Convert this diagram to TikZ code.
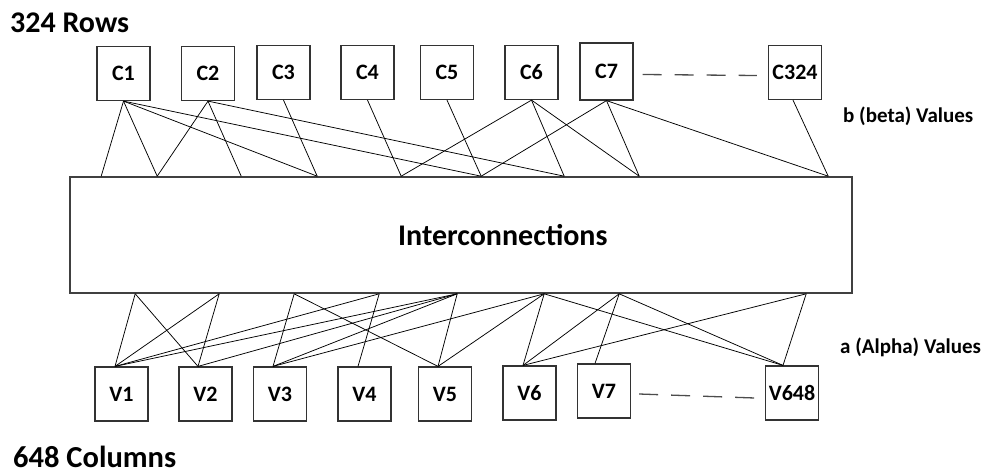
\documentclass[tikz,border=0pt]{standalone}
\usepackage{fontspec}
\setmainfont{Carlito}
\begin{document}
\begin{tikzpicture}[x=1pt,y=-1pt,
  cbox/.style={draw=black!80,line width=1.2pt,minimum width=53pt,minimum height=54pt,inner sep=0pt,
    font=\bfseries\fontsize{22}{24}\selectfont},
  bigbox/.style={draw=black!75,line width=1.6pt,minimum width=782pt,minimum height=116pt,inner sep=0pt},
  link/.style={draw=black,line width=0.75pt},
  ellip/.style={draw=black!70,line width=1.3pt,dash pattern=on 19pt off 13pt},
  bigtext/.style={font=\bfseries\fontsize{30}{34}\selectfont,inner sep=0pt},
  sidetext/.style={font=\bfseries\fontsize{21}{24}\selectfont,inner sep=0pt,anchor=base west}]
\useasboundingbox (0,0) rectangle (984,474);

% top boxes
\node[cbox] (C1) at (123.5,73.5) {C1};
\node[cbox] (C2) at (208,73.5) {C2};
\node[cbox] (C3) at (283.5,72.5) {C3};
\node[cbox] (C4) at (367.5,72.5) {C4};
\node[cbox] (C5) at (447,72.5) {C5};
\node[cbox] (C6) at (531.5,72.5) {C6};
\node[cbox,minimum height=57pt] (C7) at (606.5,71.5) {C7};
\node[cbox] (C324) at (795,72.5) {C324};

% bottom boxes
\node[cbox] (V1) at (121.5,394) {V1};
\node[cbox] (V2) at (205.5,394) {V2};
\node[cbox] (V3) at (280,394) {V3};
\node[cbox] (V4) at (364.5,394) {V4};
\node[cbox] (V5) at (445,394) {V5};
\node[cbox] (V6) at (529.5,393) {V6};
\node[cbox] (V7) at (604,391) {V7};
\node[cbox] (V648) at (792,393) {V648};

% big box
\node[bigbox] (inter) at (461,235) {};
\node[bigtext,anchor=base west] (interlabel) at (398,245) {Interconnections};

% labels
\node[bigtext,anchor=base west] (rows) at (10,32) {324 Rows};
\node[bigtext,anchor=base west,font=\bfseries\fontsize{30.5}{34}\selectfont] (cols) at (13,467.5) {648 Columns};
\node[sidetext] (beta) at (843,122) {b (beta) Values};
\node[sidetext] (alpha) at (840,353) {a (Alpha) Values};

% ellipsis dashes
\draw[ellip] (C7.east) ++(9pt,-3pt) coordinate (d1) -- ([yshift=-3pt,xshift=-11pt]C324.west) coordinate (d2);
\draw[ellip] ([xshift=8pt,yshift=-3pt]V7.east) coordinate (d3) -- ([xshift=-10pt,yshift=-5pt]V648.west) coordinate (d4);

% attachment points on big box
\foreach \n/\x in {1/32,2/88,3/172,4/248,5/332,6/412,7/495,8/570,9/759}
  \coordinate (t\n) at ([xshift=\x pt]inter.north west);
\foreach \n/\x in {1/66,2/150,3/225,4/310,5/388,6/475,7/550,8/737}
  \coordinate (b\n) at ([xshift=\x pt]inter.south west);

% attachment points on V boxes
\coordinate (v1) at ([xshift=-6.5pt]V1.north);
\coordinate (v2) at ([xshift=-7.5pt]V2.north);
\coordinate (v3) at ([xshift=-7pt]V3.north);
\coordinate (v4) at ([xshift=-6.5pt]V4.north);
\coordinate (v5) at ([xshift=-7pt]V5.north);
\coordinate (v6) at ([xshift=-6.5pt]V6.north);
\coordinate (v7) at ([xshift=-9pt]V7.north);
\coordinate (v8) at ([xshift=-9pt]V648.north);

% top links
\foreach \t in {1,2,4,6} \draw[link] (C1.south) -- (t\t);
\foreach \t in {2,3,7} \draw[link] (C2.south) -- (t\t);
\draw[link] (C3.south) -- (t4);
\draw[link] (C4.south) -- (t5);
\draw[link] (C5.south) -- (t6);
\foreach \t in {5,7,8} \draw[link] (C6.south) -- (t\t);
\foreach \t in {6,8,9} \draw[link] (C7.south) -- (t\t);
\draw[link] ([xshift=-2pt]C324.south) -- (t9);

% bottom links
\foreach \b in {1,2,4,5} \draw[link] (v1) -- (b\b);
\foreach \b in {1,2,5} \draw[link] (v2) -- (b\b);
\foreach \b in {3,5,6} \draw[link] (v3) -- (b\b);
\draw[link] (v4) -- (b4);
\foreach \b in {3,5,6} \draw[link] (v5) -- (b\b);
\foreach \b in {6,7,8} \draw[link] (v6) -- (b\b);
\draw[link] (v7) -- (b7);
\foreach \b in {6,7,8} \draw[link] (v8) -- (b\b);
\end{tikzpicture}
\end{document}
